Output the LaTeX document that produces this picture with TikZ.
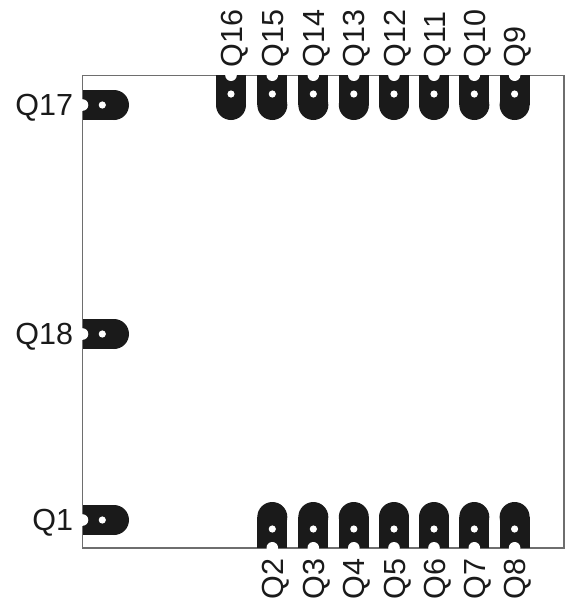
\documentclass[tikz,border=0pt]{standalone}
\usepackage{fontspec}
\setmainfont{Liberation Sans}
\definecolor{padblack}{HTML}{1A1A1A}
\definecolor{edgegray}{HTML}{6E6E6E}
\tikzset{
  board/.style={draw=edgegray,line width=1.4pt},
  padfill/.style={fill=padblack},
  holefill/.style={fill=white},
  pinlabel/.style={inner sep=0pt,outer sep=0pt,text=padblack,font=\fontsize{30.5pt}{31pt}\selectfont},
}
\begin{document}
\begin{tikzpicture}[x=1pt,y=-1pt]
\useasboundingbox (0,0) rectangle (565,598);
\draw[board] (82.5,75.2) rectangle (564,547.8);
% left pads
\foreach \n/\y in {17/105,18/334,1/520}{
  \fill[padfill] (82.5,\y-15) rectangle (114,\y+15);
  \fill[padfill] (114,\y) circle[radius=15];
  \fill[holefill] (102.3,\y) circle[radius=3.6];
  \fill[holefill] (82.5,\y) circle[radius=5.8];
  \node[pinlabel,anchor=base east] (q\n) at (73,\y+10.5) {Q\n};
}
% top pads
\foreach \n/\x in {16/231,15/272.3,14/313.3,13/353.8,12/394,11/434,10/474.3,9/514.6}{
  \fill[padfill] (\x-15,75.2) rectangle (\x+15,105);
  \fill[padfill] (\x,105) circle[radius=15];
  \fill[holefill] (\x,94) circle[radius=3.6];
  \fill[holefill] (\x,75.2) circle[radius=5.8];
  \node[pinlabel,rotate=90,anchor=base west] (q\n) at (\x+11,67) {Q\n};
}
% bottom pads
\foreach \n/\x in {2/272.3,3/313.3,4/353.8,5/394,6/434,7/474.3,8/514.6}{
  \fill[padfill] (\x-15,517) rectangle (\x+15,547.8);
  \fill[padfill] (\x,517) circle[radius=15];
  \fill[holefill] (\x,529) circle[radius=3.6];
  \fill[holefill] (\x,547.8) circle[radius=5.8];
  \node[pinlabel,rotate=90,anchor=base west] (q\n) at (\x+11,599) {Q\n};
}
\end{tikzpicture}
\end{document}
